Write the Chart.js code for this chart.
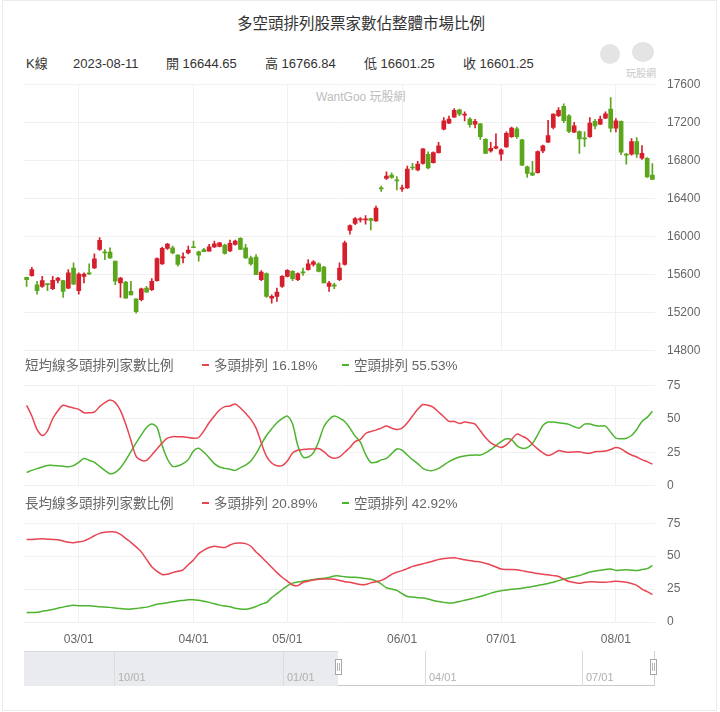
<!DOCTYPE html>
<html><head><meta charset="utf-8">
<script src="https://cdn.jsdelivr.net/npm/chart.js@4.4.0/dist/chart.umd.min.js"></script>
<style>
body{margin:0;background:#fff;font-family:"Liberation Sans","Noto Sans CJK TC",sans-serif;}
#wrap{position:relative;width:720px;height:712px;overflow:hidden;background:#fff;}
#frame{position:absolute;left:2px;top:0;width:715px;height:711px;border:1px solid #ebebeb;box-sizing:border-box;}
.t{position:absolute;white-space:nowrap;line-height:1;}
canvas{position:absolute;}
.dash{display:inline-block;width:7px;height:2px;vertical-align:middle;margin-right:5px;position:relative;top:-1px;}
</style></head>
<body><div id="wrap">
<div id="frame"></div>
<div class="t" style="left:0;width:722px;text-align:center;top:16px;font-size:15.5px;color:#333;">多空頭排列股票家數佔整體市場比例</div>
<div class="t" style="left:26px;top:57px;font-size:13px;color:#333;">K線</div>
<div class="t" style="left:73px;top:57px;font-size:13px;color:#333;">2023-08-11</div>
<div class="t" style="left:166px;top:57px;font-size:13px;color:#333;">開 16644.65</div>
<div class="t" style="left:265px;top:57px;font-size:13px;color:#333;">高 16766.84</div>
<div class="t" style="left:364px;top:57px;font-size:13px;color:#333;">低 16601.25</div>
<div class="t" style="left:463px;top:57px;font-size:13px;color:#333;">收 16601.25</div>
<div style="position:absolute;left:600px;top:44px;width:20px;height:20px;border-radius:50%;background:#e4e4e4;"></div>
<div style="position:absolute;left:632px;top:42px;width:22px;height:20px;border-radius:50%;background:#e4e4e4;"></div>
<div class="t" style="left:626px;top:69px;font-size:10px;color:#c8c8c8;">玩股網</div>
<div class="t" style="left:316px;top:91px;font-size:12px;color:#bdbdbd;">WantGoo 玩股網</div>

<canvas id="cA" width="720" height="305" style="left:0;top:65px;width:720px;height:305px;"></canvas>
<canvas id="cB" width="720" height="139" style="left:0;top:366px;width:720px;height:139px;"></canvas>
<canvas id="cC" width="720" height="148" style="left:0;top:504px;width:720px;height:148px;"></canvas>

<div class="t" style="left:25px;top:359px;font-size:13.5px;color:#666;">短均線多頭排列家數比例</div>
<div class="t" style="left:202px;top:359px;font-size:13.5px;color:#666;"><span class="dash" style="background:#e84552"></span>多頭排列 16.18%</div>
<div class="t" style="left:342px;top:359px;font-size:13.5px;color:#666;"><span class="dash" style="background:#4db42f"></span>空頭排列 55.53%</div>
<div class="t" style="left:25px;top:497px;font-size:13.5px;color:#666;">長均線多頭排列家數比例</div>
<div class="t" style="left:202px;top:497px;font-size:13.5px;color:#666;"><span class="dash" style="background:#e84552"></span>多頭排列 20.89%</div>
<div class="t" style="left:342px;top:497px;font-size:13.5px;color:#666;"><span class="dash" style="background:#4db42f"></span>空頭排列 42.92%</div>

<div id="slider"></div>
</div>
<script>
// ---------- DATA ----------
const dates = [
'02/13','02/14','02/15','02/16','02/17','02/20','02/21','02/22','02/23','02/24',
'03/01','03/02','03/03','03/06','03/07','03/08','03/09','03/10','03/13','03/14','03/15','03/16','03/17','03/20','03/21','03/22','03/23','03/24','03/27','03/28','03/29','03/30','03/31',
'04/06','04/07','04/10','04/11','04/12','04/13','04/14','04/17','04/18','04/19','04/20','04/21','04/24','04/25','04/26','04/27','04/28',
'05/02','05/03','05/04','05/05','05/08','05/09','05/10','05/11','05/12','05/15','05/16','05/17','05/18','05/19','05/22','05/23','05/24','05/25','05/26','05/29','05/30','05/31',
'06/01','06/02','06/05','06/06','06/07','06/08','06/09','06/12','06/13','06/14','06/15','06/16','06/19','06/20','06/21','06/26','06/27','06/28','06/29','06/30',
'07/03','07/04','07/05','07/06','07/07','07/10','07/11','07/12','07/13','07/14','07/17','07/18','07/19','07/20','07/21','07/24','07/25','07/26','07/27','07/28','07/31',
'08/01','08/02','08/04','08/07','08/08','08/09','08/10','08/11'];

const tickDates  = ['03/01','03/31','05/02','06/01','06/30','08/01'];
const tickLabels = ['03/01','04/01','05/01','06/01','07/01','08/01'];

const opens = [15572,15590,15494,15477,15505,15452,15540,15537,15459,15670,
15431,15582,15618,15670,15864,15836,15836,15741,15512,15522,
15424,15346,15336,15459,15441,15537,15713,15875,15882,15804,
15776,15829,15892,15840,15864,15847,15892,15896,15910,15850,
15917,15980,15882,15776,15783,15547,15611,15353,15371,15477,
15582,15635,15547,15628,15653,15706,15713,15678,15477,15494,
15547,15706,16063,16137,16175,16175,16189,16165,16510,16610,
16645,16590,16500,16511,16725,16700,16768,16864,16775,16881,
17128,17191,17255,17332,17275,17234,17180,17184,17022,16899,
16927,16864,16941,17050,17131,17015,16733,16670,16670,16899,
16990,17145,17270,17367,17269,17096,17103,17030,17050,17209,
17180,17244,17339,17138,17209,16862,16864,16998,16822,16822,16644.65];
const highs = [15575,15677,15530,15582,15505,15582,15572,15540,15653,15723,
15618,15618,15713,15818,15988,15864,15882,15741,15572,15530,
15530,15346,15459,15477,15558,15776,15889,15928,15899,15811,
15829,15899,15952,15847,15875,15917,15952,15940,15921,15963,
15963,15988,15917,15794,15811,15642,15618,15389,15459,15589,
15653,15642,15618,15670,15759,15748,15723,15688,15530,15512,
15723,15952,16124,16200,16200,16220,16195,16320,16530,16680,
16670,16630,16540,16740,16770,16790,16925,16890,16890,16990,
17250,17265,17345,17340,17310,17250,17230,17190,17030,16990,
17080,16920,17100,17150,17150,17020,16740,16790,16900,16960,
17220,17290,17355,17395,17280,17200,17110,17100,17250,17230,
17265,17310,17460,17240,17215,16875,17030,17040,16955,16830,16766.84];
const lows = [15477,15585,15396,15466,15431,15441,15512,15360,15452,15494,
15396,15512,15600,15663,15854,15758,15769,15494,15360,15353,
15388,15195,15325,15417,15431,15530,15706,15864,15818,15688,
15723,15818,15882,15741,15840,15847,15882,15890,15815,15840,
15910,15864,15769,15699,15600,15537,15360,15300,15318,15466,
15575,15537,15537,15593,15646,15688,15628,15512,15424,15452,
15537,15699,16026,16126,16150,16130,16070,16160,16475,16600,
16610,16490,16475,16505,16700,16690,16760,16710,16770,16875,
17120,17185,17250,17270,17215,17150,17140,17020,16870,16885,
16920,16800,16935,17040,17030,16745,16620,16640,16665,16880,
16985,17130,17260,17195,17090,17090,16874,16945,17040,17130,
17175,17238,17100,17100,16860,16760,16855,16830,16810,16620,16601.25];
const closes = [15547,15653,15431,15537,15494,15540,15565,15424,15618,15501,
15607,15607,15607,15766,15959,15829,15776,15530,15565,15353,
15388,15212,15452,15417,15530,15769,15875,15921,15829,15706,
15783,15857,15882,15804,15840,15892,15924,15935,15822,15928,
15952,15864,15776,15713,15600,15628,15371,15371,15417,15582,
15646,15558,15611,15618,15713,15734,15635,15512,15512,15480,
15670,15935,16116,16189,16185,16185,16170,16298,16500,16634,
16620,16585,16510,16708,16720,16760,16920,16722,16881,16952,
17216,17233,17325,17286,17285,17174,17209,17050,16874,16927,
16945,16910,17085,17138,17050,16750,16663,16645,16892,16952,
17060,17286,17325,17216,17103,17163,17025,17025,17191,17163,
17233,17290,17138,17216,16885,16855,16998,16864,16875,16627,16601.25];

const shortBull = [60,52,42,37.5,41,50,56,60,59,58,
57,54.5,54.5,55,59,62,64,62,56,46,
34,22,19,19,23,27.5,32,35.5,36.6,36.6,
36.6,36,35.4,36,41,47,52,56.5,59,59.5,
61,58,54,49.5,43,32,22,17,15,15,
18.5,24.5,26.5,27,27.5,27.5,27.8,25.5,22,20.5,
21.5,25,28.5,33,34.5,39,40.5,41.5,43,44.5,
43,42,43,47,52,57,60.6,60,58.5,55,
51.5,48,48,46.5,47.5,47,46,41,36,32,
30,28.5,30.5,34.5,38.5,37,35,31,27.5,24.5,
22.5,24,26.2,25.5,25,25.2,25.4,24.5,24.2,25.4,
25.5,25.9,27,28.5,27.5,25,23,21.5,19.5,18,16.18];
const shortBear = [10,11.5,12.8,14,15.2,15.2,15,14.6,14.2,15,
17.5,20.3,19,17.5,14.5,11.5,9,10,13.5,19,
25.5,32,38,43.4,46,43.5,30,20,14.5,14.8,
16.5,19.5,26,28,25,21,16.5,14,13,12.4,
11.5,13.5,15.5,18.5,24,31,37.5,42.5,47,50,
52,46,30,21.5,21.5,24.5,33,44,49.5,52,
50.5,48,43,37,32.6,23.5,17.5,17.5,19.3,20.4,
24,27.5,26.5,23,19.5,16.5,13,11.5,11.5,13,
15.5,18,20,21.5,22.3,22.8,23,22.9,24.5,27,
30,33,35,34.5,30,28,28.5,31.5,38,45,
47.5,47.5,47,46.5,45.8,44,43,46,46,45,
44.5,44.5,40,35.5,35,35.5,37.5,42,48,51,55.53];
const longBull = [62.7,62.7,63,63.2,62.9,62.7,62.5,61.5,60.5,60.2,
60.8,61.6,63.3,65.5,67.3,68.2,68.5,68.3,66.5,63.5,
60.5,57,53.2,47.5,42,38.5,36,36.2,37.5,38.5,
39.6,43.5,47,51.9,54.5,56.5,57.5,57,56.5,58.5,
59.8,60,59.5,57.5,53.2,49.5,45.5,41.5,37.5,34,
31,28.1,27.6,30,31,31.8,32.5,32.7,32.7,32.5,
31.5,30.6,30.2,29.2,28.4,28.4,29.7,30.5,31.6,33.5,
36.2,37.8,39,40.5,42.2,43.2,44.2,45.2,46.3,47.4,
48.2,48.5,48.8,48,47.3,46.6,46,45.6,44.5,43.3,
41.8,40.2,39.9,39.9,39.7,39,38.2,37.5,36.8,36.3,
35.8,35.2,34.5,32.5,30.7,30,29.4,30.1,30.6,30.4,
30.2,30.2,30.5,30.9,30.6,30.2,29.2,27.8,25,23,20.89];
const longBear = [7.2,7.2,7.4,8.2,8.8,9.5,10.5,11.3,12.2,12.7,
12.4,12.3,12.3,12,11.5,11.3,11.1,10.6,10.2,9.8,
9.8,10.2,10.8,11.3,12.3,13.4,14,14.6,15.3,15.9,
16.4,16.9,16.8,16.6,15.8,14.9,13.9,12.8,12.1,11.5,
10.5,9.8,9.7,10.5,11.8,13.5,14.8,18.5,21.5,24.5,
27.5,29.5,30.3,31,31.6,32.2,32.8,33.2,33.8,35,
35,34.3,34,34,33.6,33,32.5,31.2,28.9,26,
25,24,21.5,19.4,18.9,18.5,18.2,17.4,16.4,15.6,
14.9,14.4,14.7,15.6,16.5,17.4,18.3,19.3,20.5,21.9,
23,23.8,24.3,24.8,25.2,25.6,26.3,26.9,27.7,28.4,
29.3,30.2,31.4,32.5,33.4,34.4,35.3,36.6,37.9,38.6,
39.2,39.8,40.3,39.2,39.4,39.6,39.3,39.1,39.8,40.5,42.92];

const sliderTicks = ['10/01','01/01','04/01','07/01'];

// ---------- STYLE ----------
const UP = '#d61f2c', DOWN = '#5ca61d';
const RED = '#e84552', GREEN = '#4db42f';
const GRID = '#f0f0f0';
const FONT = {family:'"Liberation Sans", Arial, sans-serif', size:12};
Chart.defaults.font = FONT;
Chart.defaults.color = '#666';

const tickIdx = tickDates.map(d => dates.indexOf(d));

function xScale(showLabels, height){
  return {
    type:'category', offset:true,
    grid:{offset:false, drawTicks:false,
      color: c => tickIdx.includes(c.index) ? GRID : 'rgba(0,0,0,0)'},
    border:{display:false},
    ticks:{display:showLabels, autoSkip:false, maxRotation:0, minRotation:0, padding:10, color:'#666',
      callback:(v,i)=>{const k = tickIdx.indexOf(i); return k>=0 ? tickLabels[k] : '';}},
    afterFit: s => { s.height = height; }
  };
}
function yScale(min,max,step){
  return {
    position:'right', min:min, max:max,
    grid:{color:GRID, drawTicks:false},
    border:{display:false},
    ticks:{stepSize:step, padding:12, color:'#666', callback:v=>String(v)},
    afterFit: s => { s.width = 65; }
  };
}
const base = {
  responsive:false, animation:false, events:[],
  plugins:{legend:{display:false}, tooltip:{enabled:false}},
};

// ---------- CANDLES ----------
const cols = opens.map((o,i)=> closes[i] > o ? UP : (closes[i] < o ? DOWN : (i>0 && closes[i] >= closes[i-1] ? UP : DOWN)));
new Chart(document.getElementById('cA'), {
  type:'bar',
  data:{labels:dates, datasets:[
    {data: lows.map((l,i)=>[l, highs[i]]), backgroundColor: cols, barThickness:1, grouped:false, order:2},
    {data: opens.map((o,i)=>[o, closes[i]]), backgroundColor: cols, barThickness:4, grouped:false, minBarLength:1, order:1}
  ]},
  options:Object.assign({}, base, {
    layout:{padding:{left:24, right:0, top:8, bottom:8}},
    scales:{x:xScale(false,0), y:yScale(14800,17600,400)}
  })
});

// ---------- LINE PANELS ----------
function linePanel(id, bull, bear, showX, xh, pad){
  new Chart(document.getElementById(id), {
    type:'line',
    data:{labels:dates, datasets:[
      {data:bull, borderColor:RED, borderWidth:1.5, pointRadius:0, tension:0.3, fill:false},
      {data:bear, borderColor:GREEN, borderWidth:1.5, pointRadius:0, tension:0.3, fill:false}
    ]},
    options:Object.assign({}, base, {
      layout:{padding:pad},
      scales:{x:xScale(showX,xh), y:yScale(0,75,25)}
    })
  });
}
linePanel('cB', shortBull, shortBear, false, 0, {left:24,right:0,top:9,bottom:8});
linePanel('cC', longBull, longBear, true, 30, {left:24,right:0,top:9,bottom:0});

// ---------- SLIDER (data zoom) ----------
(function(){
  const s = document.getElementById('slider');
  const L=24, R=655, T=651, B=686, H=338;
  const pos = [114, 283, 425, 582];
  let h = '';
  h += `<div style="position:absolute;left:${L}px;top:${T}px;width:${H-L}px;height:${B-T}px;background:#e9ebef;border-top:1px solid #d6d9de;box-sizing:border-box;"></div>`;
  h += `<div style="position:absolute;left:${H}px;top:${T}px;width:${R-H}px;height:${B-T}px;border-bottom:1px solid #c9c9c9;border-right:1px solid #d0d0d0;box-sizing:border-box;"></div>`;
  pos.forEach((x,i)=>{
    h += `<div style="position:absolute;left:${x}px;top:${T}px;width:1px;height:${B-T}px;background:#dcdcdc;"></div>`;
    h += `<div class="t" style="left:${x+4}px;top:${T+21}px;font-size:11px;color:#b0b0b0;">${sliderTicks[i]}</div>`;
  });
  [H-3, R-5].forEach(x=>{
    h += `<div style="position:absolute;left:${x}px;top:${T+8}px;width:7px;height:16px;background:#fff;border:1px solid #a8a8a8;box-sizing:border-box;"></div>`;
    h += `<div style="position:absolute;left:${x+2}px;top:${T+12}px;width:1px;height:8px;background:#b5b5b5;"></div>`;
    h += `<div style="position:absolute;left:${x+4}px;top:${T+12}px;width:1px;height:8px;background:#b5b5b5;"></div>`;
  });
  s.innerHTML = h;
})();
</script>
</body></html>
